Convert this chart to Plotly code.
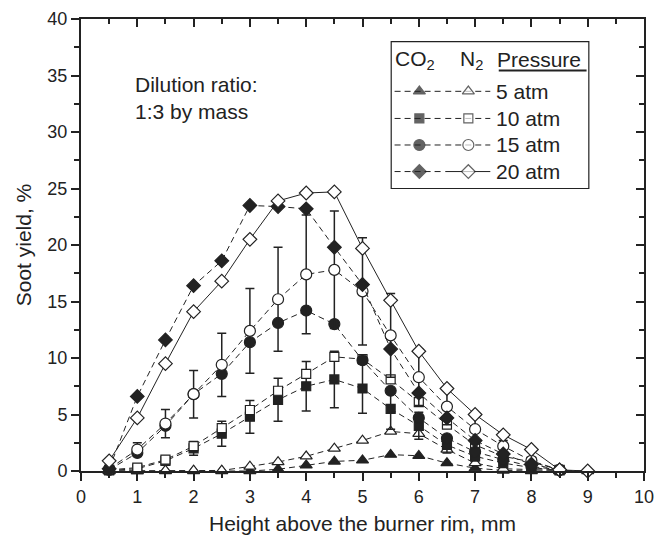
import plotly.graph_objects as go

# heights above the burner rim, mm
heights = [0.5, 1.0, 1.5, 2.0, 2.5, 3.0, 3.5, 4.0, 4.5, 5.0, 5.5, 6.0, 6.5, 7.0, 7.5, 8.0, 8.5, 9.0]
h_to_85 = heights[:17]

# soot yield, %  (CO2 = filled markers, N2 = open markers)
co2_5 = [0.0, 0.0, 0.0, 0.0, 0.0, 0.0, 0.15, 0.5, 0.85, 0.95, 1.45, 1.35, 0.7, 0.25, 0.05, 0.0, 0.0]
n2_5 = [0.0, 0.0, 0.05, 0.05, 0.05, 0.4, 0.8, 1.3, 2.0, 2.7, 3.5, 3.3, 1.9, 0.7, 0.2, 0.1, 0.05, 0.0]
co2_10 = [0.05, 0.2, 0.9, 2.0, 3.3, 4.8, 6.3, 7.5, 8.1, 7.3, 5.5, 4.0, 2.3, 1.3, 0.7, 0.3, 0.05]
co2_10_err = [0, 0, 0.2, 0.6, 1.1, 1.45, 1.9, 2.2, 2.5, 2.2, 1.8, 1.2, 0.7, 0.4, 0.2, 0, 0]
n2_10 = [0.1, 0.3, 1.0, 2.2, 3.8, 5.4, 7.1, 8.6, 10.1, 9.9, 8.1, 6.1, 4.1, 2.3, 1.3, 0.8, 0.1]
co2_15 = [0.1, 1.6, 4.0, 6.8, 8.6, 11.4, 13.1, 14.2, 13.0, 9.8, 7.1, 4.7, 2.9, 1.7, 1.0, 0.4, 0.1]
n2_15 = [0.2, 1.9, 4.2, 6.8, 9.4, 12.4, 15.2, 17.4, 17.8, 15.9, 12.0, 8.3, 5.7, 3.7, 2.2, 0.9, 0.1]
n2_15_err = [0.0, 0.6, 1.25, 2.1, 2.8, 3.75, 4.6, 5.25, 5.2, 4.75, 3.7, 2.5, 1.6, 1.3, 0.5, 0.3, 0.0]
co2_20 = [0.2, 6.6, 11.6, 16.4, 18.6, 23.5, 23.4, 23.2, 19.8, 16.5, 10.8, 6.9, 4.7, 2.7, 1.5, 0.6, 0.1]
n2_20 = [0.9, 4.7, 9.5, 14.1, 16.8, 20.5, 23.9, 24.6, 24.7, 19.7, 15.1, 10.6, 7.3, 5.0, 3.2, 1.9, 0.1, 0.0]

pressures = ["5 atm", "10 atm", "15 atm", "20 atm"]

FONT = "Liberation Sans, Arial, sans-serif"
INK = "#222222"
DASH = "6px,4px"

# (x, y, err, symbol, size, open, dash)
series = [
    (h_to_85, co2_5, None, "triangle-up", 10.5, False, DASH),
    (heights, n2_5, None, "triangle-up", 10.5, True, DASH),
    (h_to_85, co2_10, co2_10_err, "square", 9, False, DASH),
    (h_to_85, n2_10, None, "square", 9, True, DASH),
    (h_to_85, co2_15, None, "circle", 11, False, DASH),
    (h_to_85, n2_15, n2_15_err, "circle", 11, True, DASH),
    (h_to_85, co2_20, None, "diamond", 10.5, False, DASH),
    (heights, n2_20, None, "diamond", 10.5, True, "solid"),
]

fig = go.Figure()
for xs, ys, err, sym, size, is_open, dash in series:
    fig.add_trace(go.Scatter(
        x=xs, y=ys, mode="lines+markers",
        line=dict(color=INK, width=1, dash=dash),
        marker=dict(symbol=sym, size=size, color="white" if is_open else INK,
                    line=dict(color=INK, width=1.2)),
        error_y=dict(type="data", array=err, color=INK, thickness=1.5, width=4.5,
                     visible=err is not None),
        showlegend=False, cliponaxis=False,
    ))

# hand-built legend: filled (CO2) and open (N2) sample per pressure row
leg_rows = [33.6, 31.2, 28.85, 26.5]
for i, (xs, ys, err, sym, size, is_open, dash) in enumerate(series):
    yy = leg_rows[i // 2]
    x_seg = [5.57, 6.01, 6.45] if not is_open else [6.47, 6.88, 7.27]
    fig.add_trace(go.Scatter(
        x=x_seg, y=[yy] * 3, mode="lines+markers", xaxis="x2", yaxis="y2",
        line=dict(color=INK, width=1, dash=dash),
        marker=dict(symbol=sym, size=[0, size, 0], color="white" if is_open else INK,
                    line=dict(color=INK, width=[0, 1.2, 0])),
        showlegend=False, hoverinfo="skip",
    ))
for i, p in enumerate(pressures):
    fig.add_annotation(x=7.33, y=leg_rows[i], xref="x2", yref="y2", text=p,
                       showarrow=False, xanchor="left", yanchor="middle",
                       font=dict(family=FONT, size=21, color=INK))

for txt, xx in [("CO<sub>2</sub>", 5.55), ("N<sub>2</sub>", 6.7), ("Pressure", 7.36)]:
    fig.add_annotation(x=xx, y=36.4, xref="x2", yref="y2", text=txt, showarrow=False,
                       xanchor="left", yanchor="middle",
                       font=dict(family=FONT, size=21, color=INK))

fig.add_shape(type="line", xref="x2", yref="y2", x0=7.42, x1=8.98, y0=35.45, y1=35.45,
              line=dict(color=INK, width=2))
fig.add_shape(type="rect", xref="x2", yref="y2", x0=5.51, x1=9.02, y0=25.0, y1=38.0,
              line=dict(color=INK, width=1.2))

fig.add_annotation(x=0.92, y=33.0, xref="x", yref="y",
                   text="Dilution ratio:<br>1:3 by mass", showarrow=False,
                   xanchor="left", yanchor="middle", align="left",
                   font=dict(family=FONT, size=21, color=INK))

axis_common = dict(showline=True, linecolor=INK, linewidth=2, ticks="outside",
                   tickwidth=2, ticklen=8, tickcolor=INK, showgrid=False, zeroline=False,
                   automargin=False, tickfont=dict(family=FONT, size=18, color=INK))
mirror_common = dict(showline=True, linecolor=INK, linewidth=2, ticks="inside", ticklen=8,
                     tickwidth=2, tickcolor=INK, showticklabels=False, showgrid=False,
                     zeroline=False, automargin=False)

# the page body adds ~8px offset, margins compensate for it
fig.update_layout(
    width=663, height=536,
    margin=dict(l=73, r=27, t=11, b=73),
    paper_bgcolor="white", plot_bgcolor="white",
    xaxis=dict(range=[0, 10], dtick=1, tick0=0,
               minor=dict(dtick=0.5, ticks="outside", ticklen=5, tickwidth=2, tickcolor=INK),
               title=dict(text="Height above the burner rim, mm", standoff=11,
                          font=dict(family=FONT, size=21, color=INK)),
               **axis_common),
    yaxis=dict(range=[0, 40], dtick=5, tick0=0,
               minor=dict(dtick=2.5, ticks="outside", ticklen=5, tickwidth=2, tickcolor=INK),
               title=dict(text="Soot yield, %", standoff=10,
                          font=dict(family=FONT, size=21, color=INK)),
               **axis_common),
    xaxis2=dict(range=[0, 10], dtick=1, overlaying="x", side="top", anchor="y2",
                minor=dict(dtick=0.5, ticks="inside", ticklen=5, tickwidth=2, tickcolor=INK),
                **mirror_common),
    yaxis2=dict(range=[0, 40], dtick=5, overlaying="y", side="right", anchor="x2",
                minor=dict(dtick=2.5, ticks="inside", ticklen=5, tickwidth=2, tickcolor=INK),
                **mirror_common),
)

fig.write_html("out.html")
